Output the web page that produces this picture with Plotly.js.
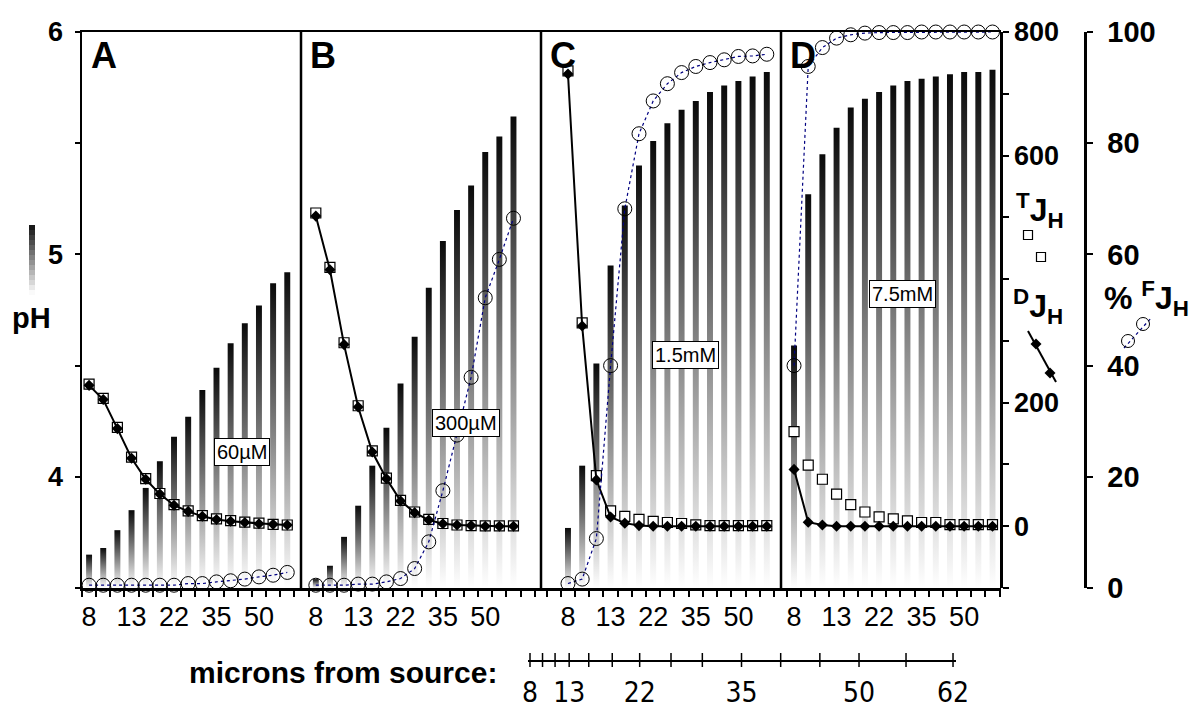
<!DOCTYPE html>
<html>
<head>
<meta charset="utf-8">
<script src="https://cdn.plot.ly/plotly-3.0.1.min.js"></script>
<style>
  html, body { margin: 0; padding: 0; background: #fff; }
  #chart { width: 1193px; height: 713px; }
</style>
</head>
<body>
<div id="chart"></div>
<script>
// Distance of each sampling position from the proton source (µm)
const distances = [8, 9.6, 11.2, 13, 15.5, 18.5, 22, 26, 30, 35, 40, 45, 50, 56, 62];
const labelledDistances = [8, 13, 22, 35, 50, 62];
const panelLetters = ['A', 'B', 'C', 'D'];
const bufferConc = ['60µM', '300µM', '1.5mM', '7.5mM'];

// pH at each position (shaded columns)
const pH_A = [3.65, 3.68, 3.76, 3.85, 3.95, 4.07, 4.18, 4.27, 4.39, 4.49, 4.60, 4.69, 4.77, 4.87, 4.92];
const pH_B = [3.54, 3.60, 3.73, 3.87, 4.05, 4.22, 4.42, 4.63, 4.85, 5.06, 5.20, 5.31, 5.46, 5.53, 5.62];
const pH_C = [3.77, 4.05, 4.51, 4.95, 5.22, 5.40, 5.51, 5.59, 5.65, 5.69, 5.73, 5.76, 5.78, 5.80, 5.82];
const pH_D = [4.59, 5.27, 5.45, 5.57, 5.66, 5.70, 5.73, 5.76, 5.78, 5.79, 5.80, 5.81, 5.82, 5.82, 5.83];

// Total proton flux, TJH (open squares)
const totalJ_A = [230, 207, 160, 112, 77, 53, 35, 25, 17, 12, 9, 6.5, 5, 3, 2];
const totalJ_B = [507, 419, 297, 195, 122, 78, 42, 23, 11, 4.4, 2, 1, 0.5, 0.5, 0.5];
const totalJ_C = [737, 329, 82, 25, 16, 11, 8, 6, 4.4, 2.1, 1, 1, 1, 1, 1];
const totalJ_D = [153, 99, 76, 52, 35, 23, 15, 12, 8.6, 6, 6, 2.7, 2.7, 2.7, 2.7];

// Free-diffusion proton flux, DJH (filled diamonds)
const diffJ_A = [228, 205, 158, 110, 76, 52, 34, 24, 16, 11, 8, 6, 4, 3, 2];
const diffJ_B = [502, 415, 294, 193, 120, 77, 41, 22, 10, 4, 2, 1, 0, 0, 0];
const diffJ_C = [732, 324, 75, 15, 5, 1, 0, 0, 0, 0, 0, 0, 0, 0, 0];
const diffJ_D = [92, 6.5, 2.1, 0, 0, 0, 0, 0, 0, 0, 0, 0, 0, 0, 0];

// Buffer-facilitated share of the flux, % FJH (open circles)
const pctF_A = [0.5, 0.5, 0.5, 0.5, 0.5, 0.5, 0.5, 0.8, 0.8, 1.1, 1.3, 1.6, 2.0, 2.3, 2.8];
const pctF_B = [0.5, 0.5, 0.5, 0.7, 0.7, 1.1, 1.7, 3.5, 8.3, 17.5, 27.5, 37.9, 52.2, 59.1, 66.5];
const pctF_C = [0.8, 1.6, 8.9, 40.0, 68.2, 81.7, 87.6, 90.7, 92.7, 93.8, 94.5, 95.0, 95.6, 95.7, 96.0];
const pctF_D = [40.0, 93.8, 97.2, 98.9, 99.5, 99.8, 99.9, 99.9, 99.9, 100, 100, 100, 100, 100, 100];

const pHSeries = [pH_A, pH_B, pH_C, pH_D];
const totalSeries = [totalJ_A, totalJ_B, totalJ_C, totalJ_D];
const diffSeries = [diffJ_A, diffJ_B, diffJ_C, diffJ_D];
const pctSeries = [pctF_A, pctF_B, pctF_C, pctF_D];

// ---- geometry helpers (page pixels -> paper fractions) ----
const W = 1193, H = 713;
const px = x => x / W;
const py = y => 1 - y / H;
const FONT = '"Liberation Sans", Arial, sans-serif';
const NARROW = '"Liberation Sans Narrow", "DejaVu Sans Condensed", "Liberation Sans", sans-serif';

const PLOT_TOP = 32, PLOT_BOTTOM = 588;
const yDomain = [py(PLOT_BOTTOM), py(PLOT_TOP)];
const PH_RANGE = [3.5, 6];
const FLUX_RANGE = [-100, 800];
const PCT_RANGE = [0, 100];
const FLUX_AXIS_X = 1001, PCT_AXIS_X = 1085;

const panelGeom = [
  { x0: 82,  x1: 301,  range: [-0.5, 14.97] },
  { x0: 301, x1: 541,  range: [-1.05, 15.95] },
  { x0: 541, x1: 781,  range: [-1.9, 15.0] },
  { x0: 781, x1: 1001, range: [-0.92, 14.6] }
];
const labelIdx = distances.map((d, i) => labelledDistances.includes(d) && d !== 62 ? i : -1).filter(i => i >= 0);
const BAR_HALF = 0.21;

const traces = [];

panelGeom.forEach((g, k) => {
  const xa = k === 0 ? 'x' : 'x' + (k + 1);
  const idx = distances.map((_, i) => i);

  // shaded pH columns: each one fades from white at the base to black at its top
  pHSeries[k].forEach((v, i) => {
    const base = PH_RANGE[0];
    traces.push({
      type: 'scatter', xaxis: xa, yaxis: 'y',
      x: [i - BAR_HALF, i + BAR_HALF, i + BAR_HALF, i - BAR_HALF, i - BAR_HALF],
      y: [base, base, v, v, base],
      mode: 'lines', line: { width: 0, color: 'rgba(0,0,0,0)' },
      fill: 'toself', fillcolor: '#777',
      fillgradient: { type: 'vertical', start: base, stop: v,
        colorscale: [[0, '#ffffff'], [1, '#0a0a0a']] },
      hoverinfo: 'skip', showlegend: false
    });
  });

  // total flux: white squares, no connecting line
  traces.push({
    type: 'scatter', xaxis: xa, yaxis: 'y2', x: idx, y: totalSeries[k],
    mode: 'markers', cliponaxis: false,
    marker: { symbol: 'square', size: 10, color: '#fff', line: { color: '#000', width: 1.2 } },
    hoverinfo: 'skip', showlegend: false
  });

  // diffusive flux: black diamonds joined by a solid line
  traces.push({
    type: 'scatter', xaxis: xa, yaxis: 'y2', x: idx, y: diffSeries[k],
    mode: 'lines+markers', cliponaxis: false,
    line: { color: '#000', width: 2 },
    marker: { symbol: 'diamond', size: 8.5, color: '#000' },
    hoverinfo: 'skip', showlegend: false
  });

  // facilitated share: open circles on a dotted navy line
  traces.push({
    type: 'scatter', xaxis: xa, yaxis: 'y3', x: idx, y: pctSeries[k],
    mode: 'lines+markers', cliponaxis: false,
    line: { color: '#000080', width: 1.2, dash: '3px,3px' },
    marker: { symbol: 'circle-open', size: 14, color: '#000', line: { width: 1 } },
    hoverinfo: 'skip', showlegend: false
  });
});

// distance scale: one crossing tick per sampling position
traces.push({
  type: 'scatter', xaxis: 'x9', yaxis: 'y7', x: distances, y: distances.map(() => 0),
  mode: 'markers', cliponaxis: false,
  marker: { symbol: 'line-ns-open', size: 10, color: '#000', line: { width: 1.5, color: '#000' } },
  hoverinfo: 'skip', showlegend: false
});

const layout = {
  width: W, height: H,
  margin: { l: 0, r: 0, t: 0, b: 0 },
  paper_bgcolor: '#ffffff', plot_bgcolor: 'rgba(0,0,0,0)',
  showlegend: false, hovermode: false,
  font: { family: FONT, color: '#000' },
  shapes: [], annotations: []
};

const crossTicks = (ticks, len) => ({ tickmode: 'linear', tick0: 0.5, dtick: 1, ticks, ticklen: len, tickwidth: 2, tickcolor: '#000', showgrid: false });

panelGeom.forEach((g, k) => {
  const id = k === 0 ? '' : String(k + 1);
  const dom = [px(g.x0), px(g.x1)];
  layout['xaxis' + id] = {
    domain: dom, range: g.range, anchor: 'y',
    showline: true, linecolor: '#000', linewidth: 2.5, mirror: true,
    showgrid: false, zeroline: false,
    tickmode: 'array', tickvals: labelIdx, ticktext: labelIdx.map(i => String(distances[i])),
    ticks: '', tickfont: { family: FONT, size: 27 }, ticklabelstandoff: 3,
    minor: crossTicks('outside', 6), fixedrange: true
  };
  layout['xaxis' + (k + 5)] = {
    overlaying: 'x' + id, anchor: 'y', domain: dom, range: g.range,
    showline: false, showgrid: false, zeroline: false, showticklabels: false,
    ticks: '', minor: crossTicks('inside', 5), fixedrange: true
  };
});

const phLabelled = [4, 5, 6];
const fluxLabelled = [0, 200, 600, 800];
const pctTicks = [0, 20, 40, 60, 80, 100];

const yCommon = { showgrid: false, zeroline: false, fixedrange: true, linecolor: '#000', tickcolor: '#000', tickwidth: 2 };
const minorY = (tick0, dtick, ticks, len) => ({ tickmode: 'linear', tick0, dtick, ticks, ticklen: len, tickwidth: 2, tickcolor: '#000', showgrid: false });

layout.yaxis = Object.assign({}, yCommon, {
  domain: yDomain, range: PH_RANGE, anchor: 'x', side: 'left',
  showline: true, linewidth: 2.5,
  tickmode: 'array', tickvals: phLabelled, ticktext: phLabelled.map(String),
  ticks: 'outside', ticklen: 5, tickfont: { family: FONT, size: 27, weight: 700 }, ticklabelstandoff: 6,
  minor: minorY(4, 0.5, 'outside', 5)
});
layout.yaxis2 = Object.assign({}, yCommon, {
  overlaying: 'y', anchor: 'free', position: px(FLUX_AXIS_X), side: 'right', range: FLUX_RANGE,
  showline: true, linewidth: 2.5,
  tickmode: 'array', tickvals: fluxLabelled, ticktext: fluxLabelled.map(String),
  ticks: 'outside', ticklen: 6, tickfont: { family: FONT, size: 27, weight: 700 }, ticklabelstandoff: 0,
  minor: minorY(0, 100, 'outside', 6)
});
layout.yaxis3 = Object.assign({}, yCommon, {
  overlaying: 'y', anchor: 'free', position: px(PCT_AXIS_X), side: 'right', range: PCT_RANGE,
  showline: true, linewidth: 2.5,
  tickmode: 'array', tickvals: pctTicks, ticktext: pctTicks.map(String),
  ticks: 'outside', ticklen: 6, tickfont: { family: FONT, size: 29, weight: 700 }, ticklabelstandoff: 9
});
// inward halves of the crossing ticks
layout.yaxis4 = Object.assign({}, yCommon, {
  overlaying: 'y', anchor: 'x', side: 'left', range: PH_RANGE, showline: false, showticklabels: false,
  tickmode: 'linear', tick0: 4, dtick: 0.5, ticks: 'inside', ticklen: 6
});
layout.yaxis5 = Object.assign({}, yCommon, {
  overlaying: 'y', anchor: 'free', position: px(FLUX_AXIS_X), side: 'right', range: FLUX_RANGE,
  showline: false, showticklabels: false, tickmode: 'linear', tick0: 0, dtick: 100, ticks: 'inside', ticklen: 6
});
layout.yaxis6 = Object.assign({}, yCommon, {
  overlaying: 'y', anchor: 'free', position: px(PCT_AXIS_X), side: 'right', range: PCT_RANGE,
  showline: false, showticklabels: false, tickmode: 'linear', tick0: 0, dtick: 20, ticks: 'inside', ticklen: 6
});

// distance scale below the panels
const SCALE_Y = 660;
layout.xaxis9 = {
  domain: [px(528), px(956)], range: [7.745, 62.38], anchor: 'y7',
  showline: true, linecolor: '#000', linewidth: 2, showgrid: false, zeroline: false,
  tickmode: 'array', tickvals: labelledDistances, ticktext: labelledDistances.map(String),
  ticks: '', tickfont: { family: NARROW, size: 28 }, ticklabelstandoff: 6, fixedrange: true
};
layout.yaxis7 = { domain: [py(SCALE_Y), py(SCALE_Y - 12)], range: [0, 1], anchor: 'x9', visible: false, fixedrange: true };

// panel separators
panelGeom.slice(1).forEach(g => layout.shapes.push({
  type: 'line', xref: 'paper', yref: 'paper', x0: px(g.x0), x1: px(g.x0),
  y0: py(PLOT_BOTTOM), y1: py(PLOT_TOP), line: { color: '#000', width: 2.5 }
}));

// shaded key beside the pH label
const KEY_TOP = 225, KEY_STEP = 5, KEY_N = 14;
for (let s = 0; s < KEY_N; s++) {
  const c = Math.round(25 + 225 * s / (KEY_N - 1));
  layout.shapes.push({
    type: 'rect', xref: 'paper', yref: 'paper', x0: px(29), x1: px(35),
    y0: py(KEY_TOP + (s + 1) * KEY_STEP), y1: py(KEY_TOP + s * KEY_STEP),
    fillcolor: `rgb(${c},${c},${c})`, line: { width: 0 }
  });
}

// key glyphs for the flux series
const sq = (cx, cy, h) => ({ type: 'rect', xref: 'paper', yref: 'paper', x0: px(cx - h), x1: px(cx + h), y0: py(cy + h), y1: py(cy - h), fillcolor: '#fff', line: { color: '#000', width: 1.2 } });
const dia = (cx, cy, h) => ({ type: 'path', xref: 'paper', yref: 'paper',
  path: `M${px(cx)},${py(cy - h)} L${px(cx + h)},${py(cy)} L${px(cx)},${py(cy + h)} L${px(cx - h)},${py(cy)} Z`, fillcolor: '#000', line: { width: 0 } });
const circ = (cx, cy, r) => ({ type: 'circle', xref: 'paper', yref: 'paper', x0: px(cx - r), x1: px(cx + r), y0: py(cy + r), y1: py(cy - r), line: { color: '#000', width: 1 } });
const seg = (x0, y0, x1, y1, line) => ({ type: 'line', xref: 'paper', yref: 'paper', x0: px(x0), y0: py(y0), x1: px(x1), y1: py(y1), line });

layout.shapes.push(sq(1028, 235, 4.5), sq(1041, 257, 4.5));
layout.shapes.push(seg(1028, 331, 1056, 382, { color: '#000', width: 2 }), dia(1036, 344, 5.5), dia(1050, 373, 5.5));
layout.shapes.push(seg(1124, 348, 1152, 317, { color: '#000080', width: 1.2, dash: 'dot' }), circ(1128, 341, 6.5), circ(1143, 324, 6.5));

const ann = (text, x, y, size, extra) => Object.assign({
  text, xref: 'paper', yref: 'paper', x: px(x), y: py(y), showarrow: false,
  font: { family: FONT, size, color: '#000' }, xanchor: 'center', yanchor: 'middle'
}, extra || {});

// panel letters and buffer concentration boxes
const concPos = [[242, 452], [466, 423], [685, 355], [902, 294]];
panelGeom.forEach((g, k) => {
  layout.annotations.push(ann('<b>' + panelLetters[k] + '</b>', g.x0 + 7, 33, 36, { xanchor: 'left', yanchor: 'top' }));
  layout.annotations.push(ann(bufferConc[k], concPos[k][0], concPos[k][1], 20,
    { bgcolor: '#fff', bordercolor: '#000', borderwidth: 1, borderpad: 2 }));
});

layout.annotations.push(ann('<b>pH</b>', 31, 318, 29));
layout.annotations.push(ann('<b><sup>T</sup>J<sub>H</sub></b>', 1040, 210, 32));
layout.annotations.push(ann('<b><sup>D</sup>J<sub>H</sub></b>', 1038, 306, 32));
layout.annotations.push(ann('<b>% <sup>F</sup>J<sub>H</sub></b>', 1146, 298, 32));
layout.annotations.push(ann('<b>microns from source:</b>', 343, 672, 30));

Plotly.newPlot('chart', traces, layout, { staticPlot: true, displayModeBar: false });
</script>
</body>
</html>
